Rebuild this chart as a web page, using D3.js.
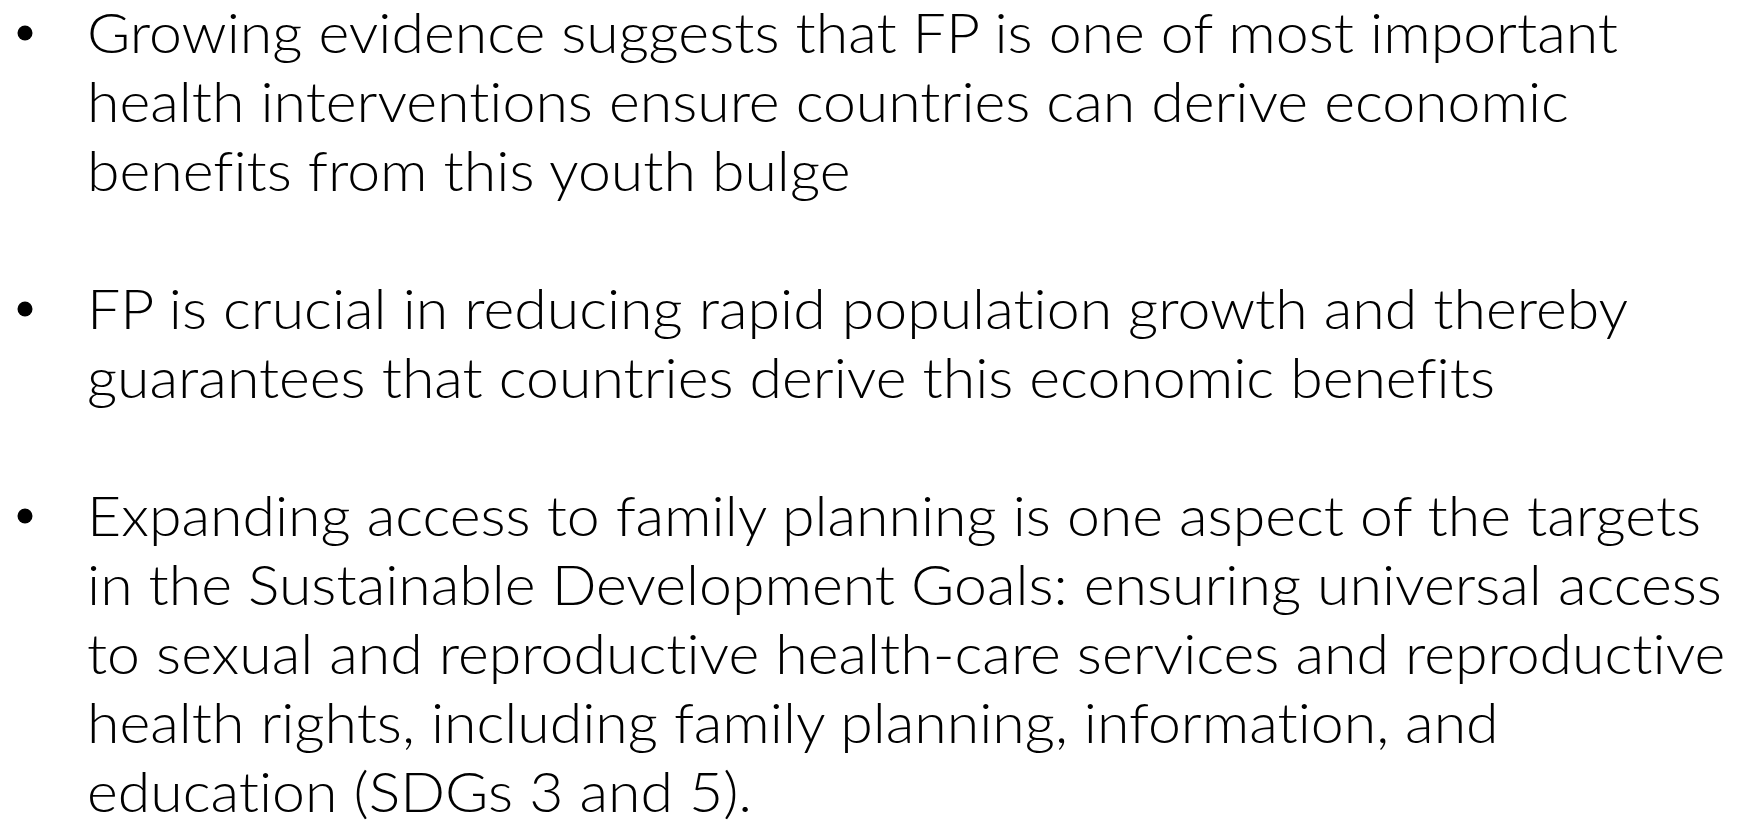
<!DOCTYPE html>
<html>
<head>
<meta charset="utf-8">
<script src="https://cdn.jsdelivr.net/npm/d3@7"></script>
<style>
  html, body { margin: 0; padding: 0; background: #ffffff; }
  svg { display: block; }
  text.line { font-variant-ligatures: none; font-feature-settings: "liga" 0, "clig" 0; }
</style>
</head>
<body>
<script>
// Slide content: each bullet is a list of wrapped lines
const bullet1 = [
  "Growing evidence suggests that FP is one of most important",
  "health interventions ensure countries can derive economic",
  "benefits from this youth bulge"
];
const bullet2 = [
  "FP is crucial in reducing rapid population growth and thereby",
  "guarantees that countries derive this economic benefits"
];
const bullet3 = [
  "Expanding access to family planning is one aspect of the targets",
  "in the Sustainable Development Goals: ensuring universal access",
  "to sexual and reproductive health-care services and reproductive",
  "health rights, including family planning, information, and",
  "education (SDGs 3 and 5)."
];
const bullets = [bullet1, bullet2, bullet3];

const W = 1761, H = 822;
const svg = d3.select("body").append("svg")
  .attr("width", W).attr("height", H);

// flatten into rows with a blank row between bullets
const rows = [];
let r = 0;
bullets.forEach((b) => {
  b.forEach((t, li) => { rows.push({ text: t, row: r, first: li === 0 }); r++; });
  r++; // blank line between paragraphs
});
const nRows = r - 2; // index of last text row

const y = d3.scaleLinear().domain([0, nRows]).range([53, 812]);
const textX = 87, bulletX = 25;
const fontSize = 56;

const g = svg.append("g");
const texts = g.selectAll("text.line").data(rows).join("text")
  .attr("class", "line")
  .attr("x", textX)
  .attr("y", d => y(d.row))
  .attr("font-family", "Lato, 'Open Sans', sans-serif")
  .attr("font-weight", 300)
  .attr("font-size", fontSize)
  .attr("fill", "#000000")
  .text(d => d.text);

// horizontal fit: Calibri Light is slightly narrower; compress uniformly
const targetFirst = 1531;
const natFirst = texts.nodes()[0].getComputedTextLength();
const k = targetFirst / natFirst;
texts.each(function () {
  const w = this.getComputedTextLength();
  d3.select(this).attr("textLength", w * k).attr("lengthAdjust", "spacingAndGlyphs");
});

g.selectAll("circle.bullet").data(rows.filter(d => d.first)).join("circle")
  .attr("class", "bullet")
  .attr("cx", bulletX)
  .attr("cy", d => y(d.row) - 20)
  .attr("r", 7.5)
  .attr("fill", "#000000");
</script>
</body>
</html>
